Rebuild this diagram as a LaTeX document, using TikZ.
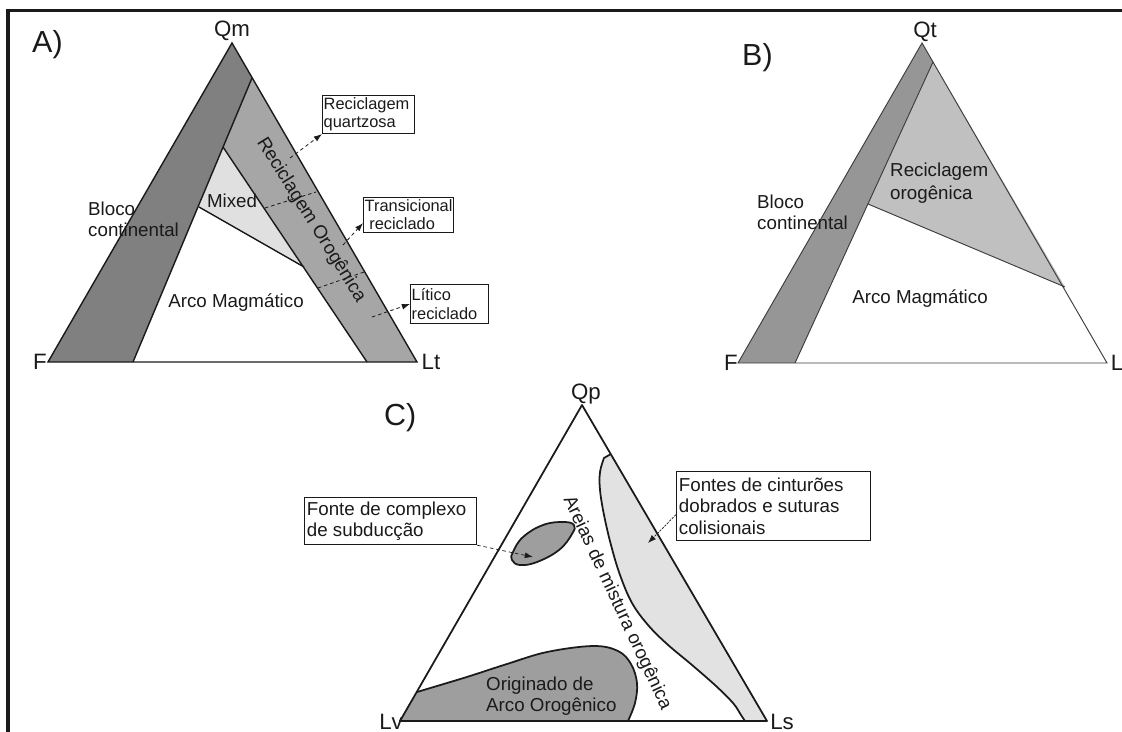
\documentclass[tikz,border=0pt]{standalone}
\usepackage{fontspec}
\setmainfont{Liberation Sans}
\usetikzlibrary{arrows.meta}
\definecolor{adark}{RGB}{128,128,128}
\definecolor{amid}{RGB}{166,166,166}
\definecolor{alight}{RGB}{224,224,224}
\definecolor{bdark}{RGB}{150,150,150}
\definecolor{blight}{RGB}{192,192,192}
\definecolor{cdark}{RGB}{158,158,158}
\definecolor{clight}{RGB}{226,226,226}
\definecolor{ink}{RGB}{26,26,26}
\begin{document}
\begin{tikzpicture}[x=0.03cm,y=-0.03cm,
  every node/.style={text=ink},
  lbl/.style={font=\fontsize{16}{17.5}\selectfont, inner sep=0pt, align=left},
  vtx/.style={font=\fontsize{19}{21}\selectfont, inner sep=0pt, anchor=base},
  panel/.style={font=\fontsize{26}{30}\selectfont, inner sep=0pt, anchor=base west},
  boxa/.style={draw=ink, line width=0.9pt, anchor=north west, inner xsep=1pt, inner ysep=1pt,
     font=\fontsize{14}{15.5}\selectfont, align=left},
  boxc/.style={draw=ink, line width=1pt, anchor=north west, inner xsep=2pt, inner ysep=1pt,
     font=\fontsize{16}{18.5}\selectfont, align=left},
  darr/.style={draw=ink, line width=0.7pt, dash pattern=on 3pt off 2.5pt,
     -{Latex[length=7pt,width=5pt]}},
  dline/.style={draw=ink, line width=0.7pt, dash pattern=on 3pt off 2.5pt},
  edgeA/.style={draw=ink, line width=1.2pt, line join=miter},
  edgeB/.style={draw=ink!85, line width=0.8pt},
  edgeC/.style={draw=ink, line width=1.5pt, line join=round},
  frame/.style={draw=ink, line width=3pt}
]
\useasboundingbox (0,0) rectangle (1122,732);
% frame
\draw[frame] (8,732) -- (8,10.5) -- (1122,10.5);

% ---------------- A ----------------
\coordinate (Qm) at (232,43);
\coordinate (FA) at (48,362);
\coordinate (Lt) at (417,362);
\coordinate (a1) at (252,78);
\coordinate (a2) at (133,362);
\coordinate (a3) at (223,147);
\coordinate (a4) at (367,362);
\coordinate (a5) at (199,207);
\coordinate (a6) at (304,267);
\fill[adark] (FA) -- (Qm) -- (a1) -- (a2) -- cycle;
\fill[amid] (a1) -- (Lt) -- (a4) -- (a3) -- cycle;
\fill[alight] (a3) -- (a6) -- (a5) -- cycle;
\draw[edgeA] (FA) -- (Qm) -- (Lt) -- cycle;
\draw[edgeA] (a1) -- (a2);
\draw[edgeA] (a3) -- (a4);
\draw[edgeA] (a5) -- (a6);
\coordinate (d1a) at (265,208);
\coordinate (d1b) at (316,192);
\coordinate (d2a) at (318,288);
\coordinate (d2b) at (364,272);
\draw[dline] (d1a) -- (d1b);
\draw[dline] (d2a) -- (d2b);

\node[panel] (pA) at (32,53) {A)};
\node[vtx] (vQm) at (232,37) {Qm};
\node[vtx] (vFA) at (40,369) {F};
\node[vtx] (vLt) at (431,369) {Lt};
\node[lbl, anchor=north west] (blocoA) at (88,202) {Bloco\\continental};
\node[lbl] (mixed) at (232,200.5) {Mixed};
\node[lbl, anchor=base] (arcoA) at (236,307) {Arco Magmático};
\node[lbl, rotate=-58] (recA) at (311,220) {Reciclagem Orogênica};

\node[boxa, minimum width=2.58cm, minimum height=1.14cm] (bq) at (322,95) {Reciclagem\\quartzosa\hspace*{1.05em}};
\node[boxa, minimum width=2.7cm, minimum height=1.05cm] (bt) at (363,197) {Transicional\\\hspace*{0.28em}reciclado\hspace*{0.9em}};
\node[boxa, minimum width=2.16cm, minimum height=1.17cm] (bl) at (410,284) {Lítico\hspace*{2.2em}\\reciclado};
\coordinate (s1) at (290,158);
\coordinate (s2) at (343,245);
\coordinate (s3) at (372,317);
\draw[darr] (s1) -- (bq.south west);
\draw[darr] (s2) -- (bt.190);
\draw[darr] (s3) -- (bl.west);

% ---------------- B ----------------
\coordinate (Qt) at (922,43);
\coordinate (FB) at (738,363);
\coordinate (LB) at (1107,363);
\coordinate (b1) at (933,62);
\coordinate (b2) at (795,363);
\coordinate (b3) at (1065,287);
\coordinate (b4) at (868,204);
\fill[bdark] (FB) -- (Qt) -- (b1) -- (b2) -- cycle;
\fill[blight] (b1) -- (b3) -- (b4) -- cycle;
\draw[edgeB] (FB) -- (Qt) -- (LB) -- cycle;
\draw[edgeB] (b1) -- (b2);
\draw[edgeB] (b4) -- (b3);

\node[panel] (pB) at (742,66) {B)};
\node[vtx] (vQt) at (925,38) {Qt};
\node[vtx] (vFB) at (731,370) {F};
\node[vtx] (vLB) at (1117,370) {L};
\node[lbl, anchor=north west] (blocoB) at (757,195) {Bloco\\continental};
\node[lbl, anchor=north west, font=\fontsize{16}{19}\selectfont] (recB) at (890,163) {Reciclagem\\orogênica};
\node[lbl, anchor=base] (arcoB) at (920,303) {Arco Magmático};

% ---------------- C ----------------
\coordinate (Qp) at (582,405);
\coordinate (Lv) at (400,721);
\coordinate (Ls) at (767,721);
\coordinate (c1) at (611,454);
% fold belts
\fill[clight] (c1) -- plot[smooth, tension=0.6] coordinates {(604,458) (600,472) (600,490) (604,515) (611,545) (620,575) (632,603) (648,625) (667,644) (692,665) (716,686) (733,703) (741,715) (745,721)} -- (Ls) -- cycle;
\draw[edgeC] (c1) -- plot[smooth, tension=0.6] coordinates {(604,458) (600,472) (600,490) (604,515) (611,545) (620,575) (632,603) (648,625) (667,644) (692,665) (716,686) (733,703) (741,715) (745,721)};
% arc origin
\fill[cdark] (Lv) -- plot[smooth, tension=0.6] coordinates {(417,692) (447,683) (470,676) (507,664) (547,652) (593,646) (618,651) (631,664) (637,683) (635,703) (628,721)} -- cycle;
\draw[edgeC] plot[smooth, tension=0.6] coordinates {(417,692) (447,683) (470,676) (507,664) (547,652) (593,646) (618,651) (631,664) (637,683) (635,703) (628,721)};
% subduction complex
\filldraw[fill=cdark, edgeC] plot[smooth cycle, tension=0.7] coordinates {(513,552) (523,537) (543,525) (563,522) (574,525) (572,534) (559,550) (537,562) (520,565) (512,560)};
\draw[edgeC] (Lv) -- (Qp) -- (Ls) -- cycle;

\node[panel] (pC) at (384,425) {C)};
\node[vtx] (vQp) at (586,399) {Qp};
\node[vtx] (vLv) at (391,729) {Lv};
\node[vtx] (vLs) at (782,729) {Ls};
\node[lbl, anchor=north west, font=\fontsize{16}{17.5}\selectfont] (orig) at (486,677) {Originado de\\Arco Orogênico};
\node[lbl, rotate=-65] (areias) at (617,603) {Areias de mistura orogênica};

\node[boxc, minimum width=5.04cm, minimum height=1.41cm] (cs) at (304,497) {Fonte de complexo\\de subducção\hspace*{2.7em}};
\node[boxc, minimum width=5.16cm, minimum height=2.07cm] (cf) at (676,471) {Fontes de cinturões\\dobrados e suturas\\colisionais\hspace*{5.5em}};
\coordinate (tipS) at (533,557);
\coordinate (tipF) at (648,543);
\draw[darr, line width=0.6pt] (cs.south east) -- (tipS);
\draw[darr, line width=0.6pt, dash pattern=on 2pt off 1pt] (cf.185) -- (tipF);
\end{tikzpicture}
\end{document}
